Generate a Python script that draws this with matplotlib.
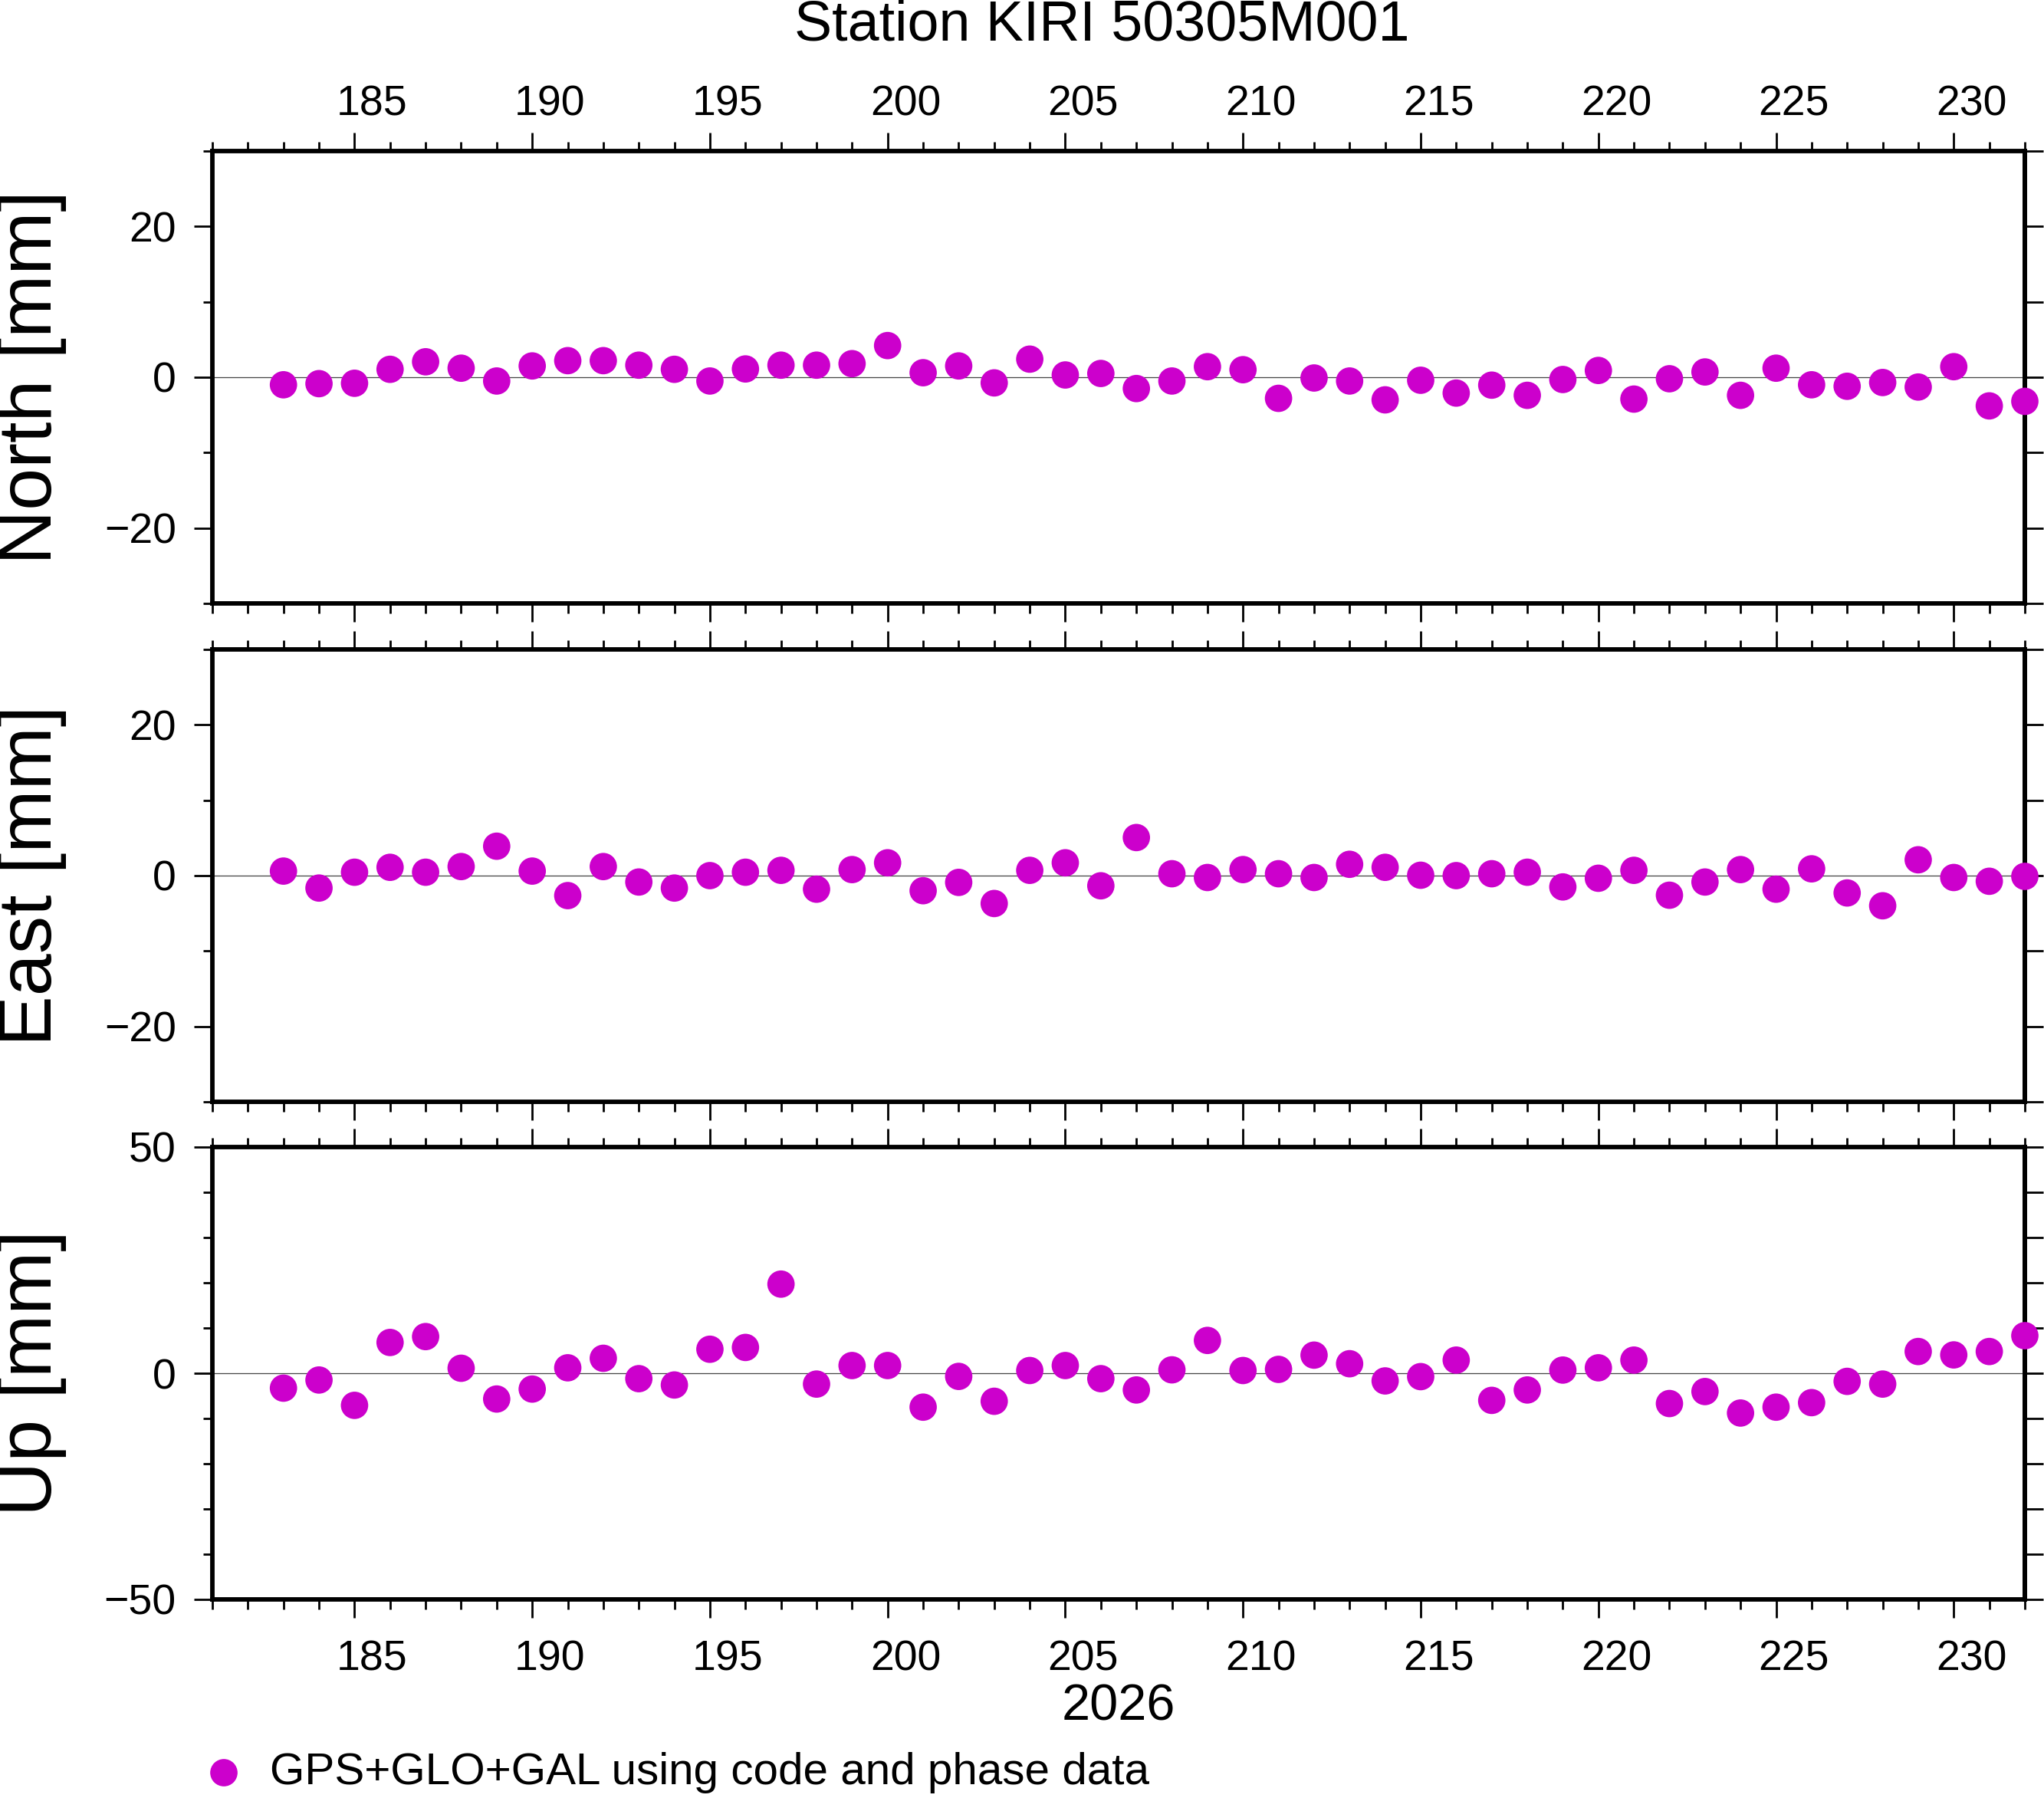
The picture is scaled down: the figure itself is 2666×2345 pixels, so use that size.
import matplotlib
matplotlib.use('Agg')
import matplotlib.pyplot as plt
from matplotlib.ticker import MultipleLocator, FixedLocator
import numpy as np

plt.rcParams['font.family'] = ['Liberation Sans', 'DejaVu Sans']

# day of year 2026
days = list(range(183, 233))

north = [-1.0, -0.85, -0.8, 1.05, 2.05, 1.2, -0.5, 1.5, 2.2, 2.2,
         1.6, 1.05, -0.5, 1.1, 1.6, 1.6, 1.8, 4.2, 0.6, 1.5,
         -0.75, 2.4, 0.3, 0.5, -1.5, -0.5, 1.4, 1.0, -2.8, -0.1,
         -0.5, -3.0, -0.4, -2.1, -1.05, -2.4, -0.3, 0.9, -2.9, -0.2,
         0.7, -2.4, 1.2, -1.0, -1.2, -0.7, -1.3, 1.4, -3.8, -3.2]

east = [0.6, -1.65, 0.45, 1.1, 0.45, 1.2, 3.9, 0.6, -2.65, 1.2,
        -0.85, -1.65, 0.0, 0.45, 0.7, -1.8, 0.8, 1.7, -2.0, -0.9,
        -3.7, 0.7, 1.7, -1.35, 5.05, 0.25, -0.25, 0.8, 0.25, -0.25,
        1.5, 1.1, 0.05, 0.0, 0.25, 0.45, -1.5, -0.35, 0.7, -2.6,
        -0.85, 0.8, -1.8, 0.9, -2.3, -4.0, 2.1, -0.25, -0.75, -0.1]

up = [-3.3, -1.5, -7.1, 6.8, 8.1, 1.1, -5.7, -3.5, 1.2, 3.3,
      -1.2, -2.6, 5.3, 5.7, 19.7, -2.4, 1.7, 1.7, -7.5, -0.7,
      -6.2, 0.6, 1.7, -1.2, -3.7, 0.75, 7.25, 0.6, 0.85, 4.0,
      2.1, -1.7, -0.75, 2.9, -6.0, -3.7, 0.7, 1.2, 2.9, -6.7,
      -4.05, -8.8, -7.5, -6.5, -1.8, -2.4, 4.8, 4.05, 4.8, 8.3]

panel_names = ['North [mm]', 'East [mm]', 'Up [mm]']
panel_data = [north, east, up]
panel_lims = [30, 30, 50]
panel_major = [20, 20, 50]
label_days = [185, 190, 195, 200, 205, 210, 215, 220, 225, 230]
year = '2026'
title = 'Station KIRI 50305M001'
legend_text = 'GPS+GLO+GAL using code and phase data'

W, H = 2666, 2345
fig = plt.figure(figsize=(W / 100, H / 100), dpi=100)

dot_color = '#CC00CC'
dot_size = 660
frame_lw = 4.2
left, right = 277 / W, 2641 / W
panel_tops = [197, 847, 1496]
panel_h = 590

for i, (name, vals, lim, major) in enumerate(zip(panel_names, panel_data, panel_lims, panel_major)):
    top = panel_tops[i]
    ax = fig.add_axes([left, 1 - (top + panel_h) / H, right - left, panel_h / H])
    ax.set_xlim(181, 232)
    ax.set_ylim(-lim, lim)
    ax.axhline(0, color='#444444', lw=0.9, zorder=1)
    ax.scatter(days, vals, s=dot_size, color=dot_color, edgecolors='none',
               zorder=3, clip_on=False)

    for sp in ax.spines.values():
        sp.set_linewidth(frame_lw)

    # x ticks: long every 5 days, short every day, both edges, outward
    ax.xaxis.set_major_locator(MultipleLocator(5))
    ax.xaxis.set_minor_locator(MultipleLocator(1))
    ax.tick_params(axis='x', which='major', direction='out', length=17, width=2,
                   top=True, bottom=True, labeltop=False, labelbottom=False)
    ax.tick_params(axis='x', which='minor', direction='out', length=9, width=2,
                   top=True, bottom=True)

    # y ticks on left with labels
    ax.yaxis.set_major_locator(MultipleLocator(major))
    ax.yaxis.set_minor_locator(MultipleLocator(10))
    ax.tick_params(axis='y', which='major', direction='out', length=17, width=2,
                   labelsize=40, pad=17, right=False)
    ax.tick_params(axis='y', which='minor', direction='out', length=9, width=2,
                   right=False)

    # right side ticks every 10
    rax = ax.secondary_yaxis('right')
    rax.yaxis.set_major_locator(FixedLocator(np.arange(-lim, lim + 1, 10)))
    rax.tick_params(axis='y', direction='out', length=17, width=2, labelright=False)
    rax.spines['right'].set_linewidth(frame_lw)

    fig.text(42 / W, 1 - (top + panel_h / 2) / H, name, rotation=90,
             ha='center', va='center', fontsize=71)

    if i == 0:
        sec = ax.secondary_xaxis('top', functions=(lambda x: x - 0.5, lambda x: x + 0.5))
        sec.set_xticks(label_days)
        sec.tick_params(axis='x', length=0, labelsize=40, pad=25)
        sec.spines['top'].set_visible(False)
    if i == 2:
        sec = ax.secondary_xaxis('bottom', functions=(lambda x: x - 0.5, lambda x: x + 0.5))
        sec.set_xticks(label_days)
        sec.tick_params(axis='x', length=0, labelsize=40, pad=38)
        sec.spines['bottom'].set_visible(False)

fig.text(1437 / W, 1 - 33 / H, title, ha='center', va='center', fontsize=53)
fig.text(1459 / W, 1 - 2227 / H, year, ha='center', va='center', fontsize=48)

# legend entry
lax = fig.add_axes([0, 0, 1, 1], facecolor='none')
lax.set_xlim(0, W)
lax.set_ylim(H, 0)
lax.axis('off')
lax.scatter([292], [2312], s=dot_size, color=dot_color, edgecolors='none')
lax.text(352, 2312, legend_text, ha='left', va='center', fontsize=42)

fig.savefig('out.png', dpi=100)
